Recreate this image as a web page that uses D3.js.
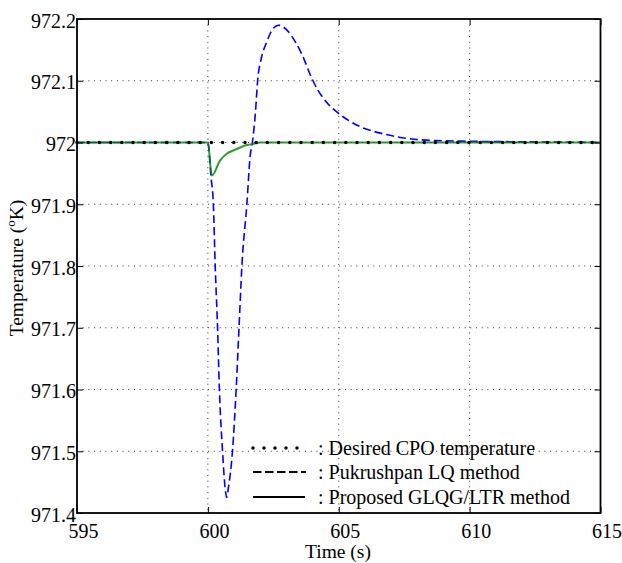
<!DOCTYPE html>
<html>
<head>
<meta charset="utf-8">
<script src="https://cdn.jsdelivr.net/npm/d3@7"></script>
<style>
  html, body { margin: 0; padding: 0; background: #fff; }
  svg { display: block; font-family: "Liberation Serif", "Times New Roman", serif; }
</style>
</head>
<body>
<svg id="chart" width="622" height="563"></svg>
<script>
// ---- data ----
const xTicks = [595, 600, 605, 610, 615];
const xTickLabels = ["595", "600", "605", "610", "615"];
const yTicks = [971.4, 971.5, 971.6, 971.7, 971.8, 971.9, 972.0, 972.1, 972.2];
const yTickLabels = ["971.4", "971.5", "971.6", "971.7", "971.8", "971.9", "972", "972.1", "972.2"];

const desiredTime = [595, 615];
const desiredTemp = [972, 972];

const lqTime = [595, 600.0, 600.12, 600.21, 600.28, 600.37, 600.44, 600.56, 600.66, 600.72, 600.78, 600.94, 601.08, 601.19, 601.30, 601.49, 601.62, 601.70, 601.81, 601.91, 602.04, 602.25, 602.45, 602.70, 603.02, 603.34, 603.59, 603.97, 604.2, 604.48, 605.06, 605.7, 606.7, 607.73, 608.75, 610.0, 612.3, 615];
const lqTemp = [972, 972, 971.944, 971.9, 971.8, 971.7, 971.6, 971.5, 971.44, 971.425, 971.44, 971.5, 971.6, 971.7, 971.8, 971.9, 971.98, 972.0, 972.045, 972.104, 972.136, 972.163, 972.182, 972.19, 972.182, 972.163, 972.143, 972.104, 972.085, 972.068, 972.045, 972.028, 972.014, 972.006, 972.003, 972.002, 972.001, 972.0];

const glqgTime = [595, 600.0, 600.15, 600.47, 600.72, 601.11, 601.42, 601.68, 602.0, 615];
const glqgTemp = [972, 972, 971.9466, 971.971, 971.9817, 971.9895, 971.9951, 971.9973, 972.0, 972.0];

const legendLabels = [": Desired CPO temperature", ": Pukrushpan LQ method", ": Proposed GLQG/LTR method"];

// ---- layout ----
const FONT = "'Liberation Serif', 'Times New Roman', serif";
const svg = d3.select("#chart");
const L = 77, R = 600.5, T = 19, B = 513;
const x = d3.scaleLinear().domain([595, 615]).range([L, R]);
const y = d3.scaleLinear().domain([971.4, 972.2]).range([B, T]);

// grid
const grid = svg.append("g").attr("stroke", "#333").attr("stroke-width", 1).attr("stroke-dasharray", "1,4.7");
grid.selectAll("line.vx").data(xTicks.slice(1, -1)).enter().append("line")
  .attr("x1", d => x(d)).attr("x2", d => x(d)).attr("y1", T).attr("y2", B);
grid.selectAll("line.hy").data(yTicks.slice(1, -1)).enter().append("line")
  .attr("x1", L).attr("x2", R).attr("y1", d => y(d)).attr("y2", d => y(d));

const line = d3.line().x(d => x(d[0])).y(d => y(d[1])).curve(d3.curveMonotoneX);
const zip = (a, b) => a.map((v, i) => [v, b[i]]);

// LQ method (blue dashed)
svg.append("path").datum(zip(lqTime, lqTemp)).attr("d", line)
  .attr("fill", "none").attr("stroke", "#0000ff").attr("stroke-width", 1.6)
  .attr("stroke-dasharray", "8,4");

// GLQG/LTR (green solid)
svg.append("path").datum(zip(glqgTime, glqgTemp)).attr("d", line)
  .attr("fill", "none").attr("stroke", "#008000").attr("stroke-width", 2).attr("stroke-opacity", 0.8);

// desired (black dotted)
svg.append("path").datum(zip(desiredTime, desiredTemp)).attr("d", d3.line().x(d => x(d[0])).y(d => y(d[1])))
  .attr("fill", "none").attr("stroke", "#000").attr("stroke-width", 3.5)
  .attr("stroke-linecap", "round").attr("stroke-dasharray", "0,11.2");

// frame
svg.append("rect").attr("x", L).attr("y", T).attr("width", R - L).attr("height", B - T)
  .attr("fill", "none").attr("stroke", "#000").attr("stroke-width", 1.8);

// axes (ticks inward)
const xAxisB = d3.axisBottom(x).tickValues(xTicks).tickSize(-6).tickFormat((d, i) => xTickLabels[i]);
const gxb = svg.append("g").attr("transform", `translate(0,${B})`).call(xAxisB);
gxb.select(".domain").remove();
gxb.selectAll("text").style("font-family", FONT).style("font-size", "20px")
  .attr("fill", "#000").attr("dx", 6).attr("y", 11).attr("dy", "0.71em");
gxb.selectAll("line").attr("stroke", "#000");

const xAxisT = d3.axisTop(x).tickValues(xTicks).tickSize(-6).tickFormat("");
const gxt = svg.append("g").attr("transform", `translate(0,${T})`).call(xAxisT);
gxt.select(".domain").remove();
gxt.selectAll("line").attr("stroke", "#000");

const yAxisL = d3.axisLeft(y).tickValues(yTicks).tickSize(-6).tickFormat((d, i) => yTickLabels[i]);
const gyl = svg.append("g").attr("transform", `translate(${L},0)`).call(yAxisL);
gyl.select(".domain").remove();
gyl.selectAll("text").style("font-family", FONT).style("font-size", "20px")
  .attr("fill", "#000").attr("x", -1).attr("dy", "0.4em");
gyl.selectAll("line").attr("stroke", "#000");

const yAxisR = d3.axisRight(y).tickValues(yTicks).tickSize(-6).tickFormat("");
const gyr = svg.append("g").attr("transform", `translate(${R},0)`).call(yAxisR);
gyr.select(".domain").remove();
gyr.selectAll("line").attr("stroke", "#000");

// axis labels
svg.append("text").attr("x", 338).attr("y", 558).attr("text-anchor", "middle")
  .style("font-family", FONT).style("font-size", "19.5px").attr("fill", "#000").text("Time (s)");
const yl = svg.append("text").attr("transform", `translate(23,268) rotate(-90)`).attr("text-anchor", "middle")
  .style("font-family", FONT).style("font-size", "19.5px").attr("fill", "#000");
yl.append("tspan").text("Temperature (");
yl.append("tspan").style("font-size", "13px").attr("dy", -8).text("o");
yl.append("tspan").attr("dy", 8).text("K)");

// legend
const legY = [448, 472, 497];
const lx1 = 253, lx2 = 305;
const leg = svg.append("g");
leg.append("line").attr("x1", lx1).attr("x2", lx2).attr("y1", legY[0]).attr("y2", legY[0])
  .attr("stroke", "#000").attr("stroke-width", 3.5).attr("stroke-linecap", "round").attr("stroke-dasharray", "0,11");
leg.append("line").attr("x1", lx1).attr("x2", lx2 + 1).attr("y1", legY[1]).attr("y2", legY[1])
  .attr("stroke", "#000").attr("stroke-width", 1.8).attr("stroke-dasharray", "8.5,3.5");
leg.append("line").attr("x1", lx1).attr("x2", lx2).attr("y1", legY[2]).attr("y2", legY[2])
  .attr("stroke", "#000").attr("stroke-width", 1.8);
leg.selectAll("text").data(legendLabels).enter().append("text")
  .attr("x", 318).attr("y", (d, i) => legY[i] + 6.5)
  .style("font-family", FONT).style("font-size", "20px").attr("fill", "#000").text(d => d);
</script>
</body>
</html>
